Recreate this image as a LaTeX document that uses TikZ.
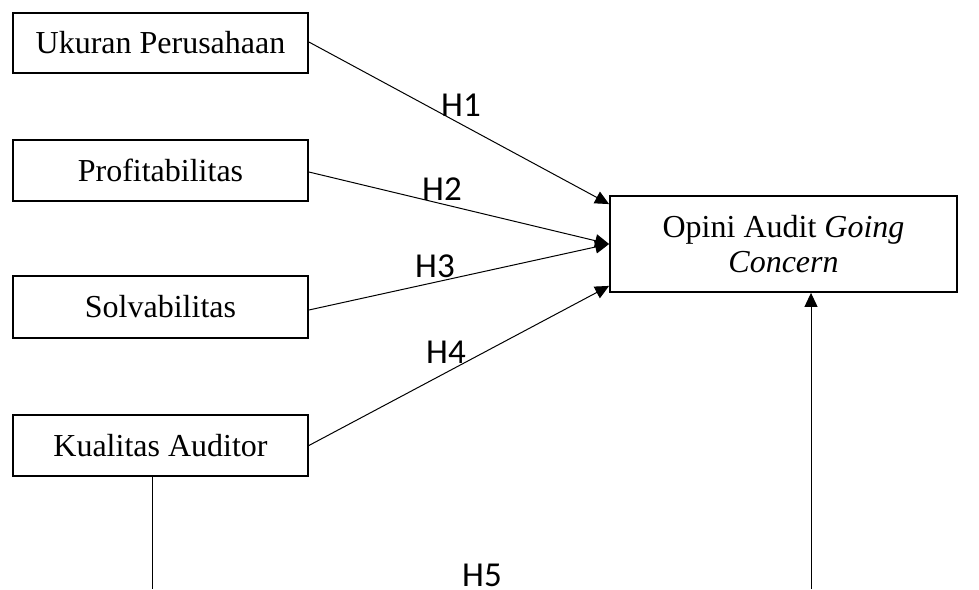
\documentclass[tikz,border=0pt]{standalone}
\usepackage{fontspec}
\setmainfont{Liberation Serif}
\newfontfamily\hfont{Carlito}
\usetikzlibrary{arrows.meta,calc}
\begin{document}
\begin{tikzpicture}[x=1pt,y=-1pt,
  varbox/.style={draw,line width=1.8pt,minimum width=295pt,minimum height=61pt,inner sep=0pt,font=\fontsize{32}{36}\selectfont},
  conn/.style={line width=1pt,-{Triangle[length=14pt,width=13pt]}},
  plainline/.style={line width=1pt},
  hlabel/.style={font=\hfont\fontsize{35}{40}\selectfont,inner sep=0pt,anchor=base}]
\useasboundingbox (0,0) rectangle (979,589);
\node[varbox,minimum height=60pt] (b1) at (160.5,43) {Ukuran Perusahaan};
\node[varbox] (b2) at (160.5,170.5) {Profitabilitas};
\node[varbox,minimum height=62pt] (b3) at (160.5,307) {Solvabilitas};
\node[varbox] (b4) at (160.5,445.5) {Kualitas Auditor};
\node[draw,line width=1.8pt,minimum width=347pt,minimum height=96pt,inner sep=0pt,align=center,font=\fontsize{32}{35}\selectfont] (op) at (783.5,244) {Opini Audit \textit{Going}\\\textit{Concern}};
\coordinate (t1) at ($(op.north west)+(0,9)$);
\coordinate (t4) at ($(op.south west)+(0,-7)$);
\draw[conn] ($(b1.east)+(0,-1)$) -- (t1);
\draw[conn] ($(b2.east)+(0,1.5)$) -- (op.west);
\draw[conn] ($(b3.east)+(0,3)$) -- (op.west);
\draw[conn] (b4.east) -- (t4);
\coordinate (kb) at (152,589);
\coordinate (ob) at (811,589);
\draw[plainline] (b4.south -| kb) -- (kb);
\draw[conn] (ob) -- (op.south -| ob);
\node[hlabel] (h1) at (461,116) {H1};
\node[hlabel] (h2) at (442,200) {H2};
\node[hlabel] (h3) at (435,277) {H3};
\node[hlabel] (h4) at (446,363) {H4};
\node[hlabel] (h5) at (482,586) {H5};
\end{tikzpicture}
\end{document}
